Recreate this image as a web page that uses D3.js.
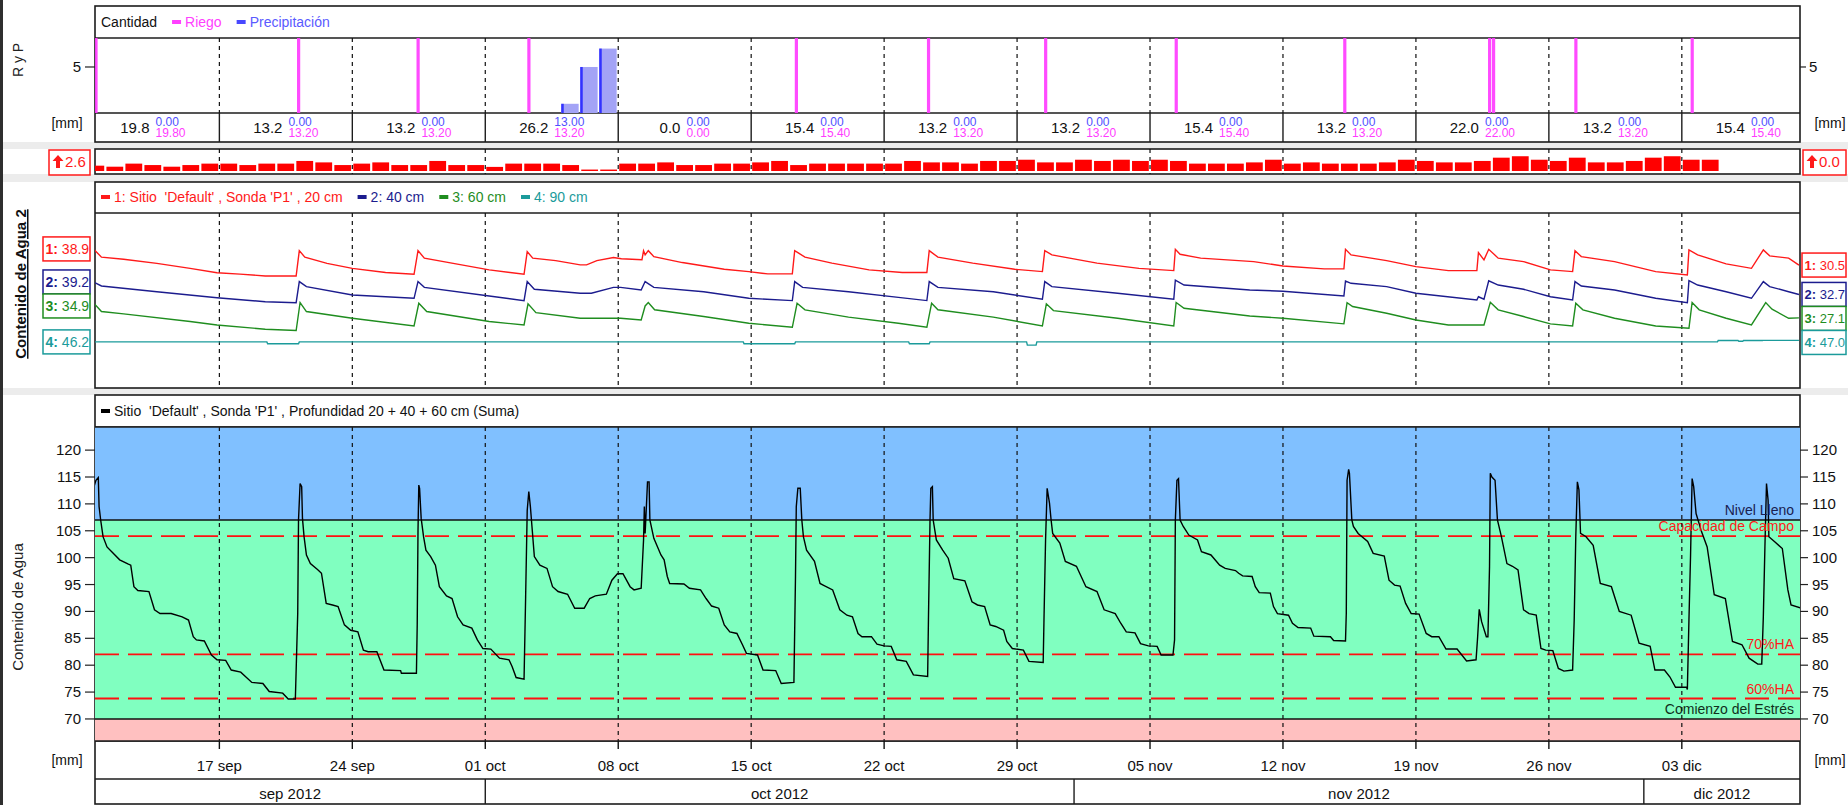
<!DOCTYPE html>
<html><head><meta charset="utf-8">
<script src="https://cdn.jsdelivr.net/npm/d3@7"></script>
<style>
body{margin:0;background:#fff;overflow:hidden;}
svg{display:block;font-family:"Liberation Sans",Arial,sans-serif;}
text{white-space:pre;}
</style></head><body>
<svg id="c" width="1848" height="805"></svg>
<script>
// ---------------- DATA ----------------
const riegoTimes = ["09-10 12","09-21 04","09-27 11","10-03 07","10-17 09","10-24 08","10-30 12","11-06 09","11-15 06","11-22 21","11-23 02","11-27 10","12-03 13"];
const riegoMm    = [19.8,13.2,13.2,13.2,15.4,13.2,13.2,15.4,13.2,13.2,8.8,13.2,15.4];
const precipDays = ["10-05 00","10-06 00","10-07 00"];
const precipMm   = [1.0,5.0,7.0];

const etStart = "09-10 00";
const etValues = [2.6,2.1,3.6,2.9,2.1,2.9,3.6,3.6,2.9,3.6, 3.6,4.9,4.2,2.9,3.6,4.2,2.9,2.9,4.9,2.9,
  2.9,2.0,3.6,3.6,3.6,2.9,0.7,0.7,3.6,3.6, 4.2,2.9,2.9,3.6,3.6,4.2,4.9,2.9,3.6,3.6,
  3.6,3.6,3.6,4.9,4.2,4.2,3.6,4.9,4.9,5.5, 4.2,4.2,5.5,4.9,5.5,4.9,5.5,4.9,3.6,3.6,
  3.6,4.2,5.5,3.6,4.2,3.6,3.6,3.6,4.2,5.5, 4.9,4.2,4.2,4.9,6.5,7.2,5.5,4.9,6.5,4.2,
  4.2,4.9,6.5,7.2,5.5,5.5];
const etRightValue = 0.0;

const suma = [["09-10 09",112.9],["09-10 12",114.4],["09-10 15",114.9],["09-10 16",109.5],["09-10 18",107.0],["09-10 21",103.9],
["09-11 02",102.0],["09-11 08",101.1],["09-11 18",99.6],["09-12 05",98.8],["09-12 08",98.6],["09-12 12",94.6],["09-12 17",93.9],
["09-13 07",93.7],["09-13 14",90.3],["09-13 21",89.6],["09-14 11",89.6],["09-15 01",89.0],["09-15 09",88.4],["09-15 15",85.3],
["09-15 19",84.7],["09-16 05",84.5],["09-16 14",81.9],["09-16 21",81.0],["09-17 08",80.9],["09-17 15",79.1],["09-18 03",78.7],
["09-18 17",76.8],["09-19 07",76.6],["09-19 15",75.1],["09-20 08",74.8],["09-20 15",73.7],["09-21 00",73.7],["09-21 03",89.6],
["09-21 04",107.0],["09-21 06",113.8],["09-21 08",113.2],["09-21 09",107.3],["09-21 11",103.9],["09-21 14",100.5],["09-21 19",98.9],
["09-22 04",97.8],["09-22 09",97.1],["09-22 15",91.5],["09-22 23",91.2],["09-23 06",90.9],["09-23 14",87.5],["09-23 22",86.5],
["09-24 07",86.2],["09-24 14",82.8],["09-24 20",82.5],["09-25 07",82.5],["09-25 16",79.1],["09-26 13",79.0],["09-26 14",78.5],
["09-27 09",78.5],["09-27 10",87.5],["09-27 11",105.1],["09-27 12",113.5],["09-27 13",112.9],["09-27 15",107.3],["09-27 18",103.9],
["09-27 21",101.4],["09-28 03",100.2],["09-28 09",98.6],["09-28 14",94.6],["09-28 23",92.9],["09-29 06",92.4],["09-29 13",89.0],
["09-29 20",87.5],["09-30 07",86.9],["09-30 14",84.7],["09-30 21",83.1],["10-01 07",83.0],["10-01 18",81.3],["10-02 06",81.0],
["10-02 10",79.7],["10-02 15",77.7],["10-03 01",77.4],["10-03 03",92.7],["10-03 05",108.8],["10-03 07",112.3],["10-03 09",109.5],
["10-03 11",105.8],["10-03 14",100.2],["10-03 21",98.6],["10-04 06",98.0],["10-04 13",94.6],["10-04 20",93.7],["10-05 08",93.2],
["10-05 17",90.6],["10-06 05",90.6],["10-06 12",92.4],["10-06 19",92.9],["10-07 09",93.2],["10-07 16",95.8],["10-07 23",97.0],
["10-08 06",97.0],["10-08 15",94.6],["10-08 20",94.0],["10-09 05",94.3],["10-09 08",103.3],["10-09 09",109.5],["10-09 10",104.5],
["10-09 11",107.6],["10-09 13",114.1],["10-09 15",114.1],["10-09 16",107.0],["10-09 21",103.6],["10-10 06",100.5],["10-10 10",99.6],
["10-10 14",96.5],["10-10 17",95.2],["10-11 11",95.1],["10-11 18",94.3],["10-12 08",94.0],["10-12 15",92.4],["10-12 22",91.0],
["10-13 07",90.6],["10-13 14",87.5],["10-13 21",86.2],["10-14 06",85.9],["10-14 13",83.8],["10-14 18",82.2],["10-15 08",81.9],
["10-15 15",79.1],["10-16 07",79.0],["10-16 14",76.6],["10-17 06",76.8],["10-17 08",96.5],["10-17 09",109.5],["10-17 11",112.9],
["10-17 14",112.9],["10-17 16",107.0],["10-17 18",103.9],["10-17 22",101.4],["10-18 08",99.3],["10-18 15",95.2],["10-18 19",94.9],
["10-19 07",94.0],["10-19 16",90.3],["10-20 01",89.3],["10-20 08",89.0],["10-20 15",85.9],["10-20 20",85.3],["10-21 08",85.3],
["10-21 15",83.9],["10-22 00",83.6],["10-22 09",83.5],["10-22 16",81.0],["10-23 04",80.7],["10-23 13",78.2],["10-24 07",77.9],
["10-24 08",88.4],["10-24 10",107.0],["10-24 11",112.9],["10-24 13",113.2],["10-24 14",107.0],["10-24 18",103.3],["10-25 02",101.4],
["10-25 09",99.9],["10-25 16",96.1],["10-26 06",95.7],["10-26 15",91.8],["10-26 22",91.2],["10-27 07",90.9],["10-27 14",87.5],
["10-27 21",87.2],["10-28 07",86.5],["10-28 11",84.4],["10-28 18",83.1],["10-29 08",82.8],["10-29 15",80.7],["10-30 09",80.5],
["10-30 10",88.4],["10-30 12",103.3],["10-30 14",112.9],["10-30 17",110.1],["10-30 19",107.0],["10-30 21",104.5],["10-31 06",102.7],
["10-31 13",99.3],["11-01 03",98.4],["11-01 15",94.6],["11-02 05",93.7],["11-02 14",90.3],["11-03 04",89.6],["11-03 11",87.8],
["11-03 18",86.2],["11-04 05",86.0],["11-04 12",84.0],["11-04 22",83.6],["11-05 09",83.5],["11-05 14",81.9],["11-06 05",81.9],
["11-06 07",84.7],["11-06 08",107.0],["11-06 10",114.4],["11-06 12",114.7],["11-06 14",107.0],["11-06 18",105.8],["11-07 01",104.2],
["11-07 12",103.3],["11-07 17",101.1],["11-08 05",100.5],["11-08 16",98.6],["11-08 23",98.0],["11-09 12",97.6],["11-09 16",97.1],
["11-09 21",96.6],["11-10 09",96.5],["11-10 13",94.6],["11-10 18",93.5],["11-11 08",93.4],["11-11 12",90.9],["11-11 17",89.6],
["11-12 07",89.3],["11-12 12",87.8],["11-12 19",87.0],["11-13 11",86.9],["11-13 15",85.4],["11-14 12",85.3],["11-14 16",84.6],
["11-15 07",84.5],["11-15 08",89.6],["11-15 09",114.4],["11-15 11",116.4],["11-15 12",115.7],["11-15 15",107.0],["11-15 17",105.8],
["11-15 23",104.5],["11-16 11",103.0],["11-16 18",100.8],["11-17 08",100.3],["11-17 14",95.8],["11-17 21",94.9],["11-18 04",94.7],
["11-18 11",91.5],["11-18 18",89.6],["11-19 04",89.5],["11-19 13",85.9],["11-19 20",85.3],["11-20 05",85.3],["11-20 14",83.0],
["11-21 04",83.0],["11-21 16",80.8],["11-22 04",81.0],["11-22 06",85.3],["11-22 08",90.4],["11-22 11",88.1],["11-22 17",85.3],
["11-22 19",85.3],["11-22 21",98.3],["11-22 22",115.7],["11-23 00",115.0],["11-23 04",114.4],["11-23 07",107.0],["11-23 12",103.9],
["11-23 19",98.9],["11-24 02",98.4],["11-24 09",97.7],["11-24 16",90.3],["11-24 23",89.6],["11-25 08",89.3],["11-25 14",83.1],
["11-25 20",82.8],["11-26 05",82.7],["11-26 12",79.4],["11-26 19",78.9],["11-27 06",79.1],["11-27 08",88.4],["11-27 10",103.9],
["11-27 12",114.1],["11-27 14",112.6],["11-27 16",104.5],["11-27 23",103.9],["11-28 08",102.3],["11-28 17",95.2],["11-29 07",94.6],
["11-29 17",90.0],["11-30 08",89.3],["11-30 18",84.1],["12-01 08",83.5],["12-01 14",79.1],["12-02 02",79.1],["12-02 09",77.8],
["12-02 16",75.9],["12-03 06",75.9],["12-03 07",75.5],["12-03 09",88.4],["12-03 11",100.2],["12-03 13",114.7],["12-03 15",113.2],
["12-03 18",108.2],["12-04 01",104.8],["12-04 08",102.0],["12-04 17",93.1],["12-05 07",92.4],["12-05 16",84.4],["12-06 04",83.8],
["12-06 13",81.3],["12-07 00",80.2],["12-07 05",80.2],["12-07 07",89.0],["12-07 09",102.0],["12-07 11",113.8],["12-07 13",110.7],
["12-07 14",103.9],["12-07 21",103.0],["12-08 07",101.7],["12-08 14",94.0],["12-08 18",91.2],["12-09 07",90.6]];

const d20 = [["09-10 09",38.9],["09-10 19",34.6],["09-11 23",33.5],["09-13 17",31.4],["09-15 11",28.8],["09-16 21",26.5],["09-18 02",25.8],
["09-19 10",24.8],["09-21 01",24.8],["09-21 05",38.0],["09-21 12",34.6],["09-22 16",31.4],["09-24 00",28.8],["09-25 18",26.6],
["09-27 06",25.7],["09-27 11",38.0],["09-27 19",34.1],["09-29 11",31.1],["10-01 05",28.0],["10-03 01",25.7],["10-03 05",37.5],
["10-03 12",34.1],["10-04 17",32.8],["10-06 00",30.6],["10-06 08",30.6],["10-06 21",32.8],["10-07 18",34.4],["10-08 04",33.8],
["10-09 06",33.3],["10-09 08",37.9],["10-09 10",35.8],["10-09 14",38.0],["10-09 21",34.9],["10-11 09",31.8],["10-13 14",28.3],
["10-14 21",27.1],["10-15 21",25.9],["10-17 04",25.9],["10-17 07",38.0],["10-17 12",36.7],["10-17 20",34.6],["10-19 06",31.5],
["10-21 05",28.0],["10-22 23",26.6],["10-24 06",26.6],["10-24 09",38.0],["10-24 20",34.6],["10-26 16",31.5],["10-28 21",28.3],
["10-30 08",27.1],["10-30 11",38.0],["10-30 20",35.8],["11-02 05",31.5],["11-04 10",28.8],["11-06 06",27.6],["11-06 08",38.7],
["11-06 14",36.1],["11-07 16",34.1],["11-10 11",32.3],["11-12 00",30.0],["11-14 04",28.5],["11-15 05",28.5],["11-15 07",38.7],
["11-15 14",35.8],["11-17 11",32.8],["11-19 00",29.7],["11-20 17",27.6],["11-22 05",27.6],["11-22 07",37.0],["11-22 14",33.2],
["11-22 20",38.7],["11-23 08",34.1],["11-24 16",32.3],["11-26 02",28.0],["11-27 06",27.1],["11-27 09",38.0],["11-27 17",34.9],
["11-29 11",32.3],["12-01 15",27.1],["12-03 07",25.4],["12-03 09",38.4],["12-03 20",35.8],["12-05 08",31.1],["12-06 16",28.8],
["12-07 07",38.4],["12-07 15",35.3],["12-08 15",34.1],["12-09 04",30.5]];

const d40 = [["09-10 09",39.2],["09-10 19",37.1],["09-13 17",34.1],["09-16 21",31.0],["09-19 10",28.9],["09-21 01",28.4],["09-21 05",39.4],
["09-21 14",36.8],["09-24 00",32.4],["09-27 06",30.7],["09-27 11",39.4],["09-27 19",36.4],["10-01 05",31.9],["10-03 01",29.5],
["10-03 05",39.4],["10-03 14",35.4],["10-06 00",33.3],["10-06 14",33.3],["10-07 18",36.4],["10-08 03",36.4],["10-09 05",35.0],
["10-09 10",39.4],["10-09 21",36.4],["10-12 12",34.1],["10-14 21",30.7],["10-17 04",29.5],["10-17 07",39.4],["10-17 17",36.4],
["10-20 03",34.1],["10-22 18",31.2],["10-24 06",29.5],["10-24 09",39.4],["10-24 20",36.4],["10-27 18",34.1],["10-30 08",30.2],
["10-30 11",39.4],["10-30 20",36.8],["11-03 07",33.3],["11-06 06",30.2],["11-06 08",40.2],["11-06 19",37.6],["11-10 06",35.0],
["11-12 00",34.4],["11-15 05",31.9],["11-15 07",39.7],["11-15 14",38.5],["11-17 11",36.8],["11-19 00",33.3],["11-22 05",29.8],
["11-22 07",31.5],["11-22 14",30.2],["11-22 20",39.8],["11-23 08",37.6],["11-24 16",35.4],["11-26 02",31.5],["11-27 06",29.8],
["11-27 09",39.4],["11-27 17",37.1],["11-29 11",35.0],["12-01 15",30.7],["12-03 07",28.4],["12-03 09",39.9],["12-03 20",37.6],
["12-05 08",34.1],["12-06 16",30.7],["12-07 07",39.4],["12-07 15",36.8],["12-08 15",34.1],["12-09 04",32.7]];

const d60 = [["09-10 09",34.9],["09-10 19",30.4],["09-11 23",29.2],["09-15 11",25.2],["09-16 21",23.4],["09-19 10",21.2],["09-21 01",20.5],
["09-21 06",35.1],["09-21 14",30.4],["09-24 00",26.9],["09-27 06",22.9],["09-27 12",34.7],["09-27 22",30.4],["10-01 05",25.2],
["10-03 01",23.4],["10-03 06",34.4],["10-03 16",29.8],["10-06 00",26.9],["10-08 03",26.9],["10-09 05",26.0],["10-09 10",33.3],
["10-09 14",35.1],["10-09 22",31.3],["10-12 12",27.8],["10-14 21",24.3],["10-17 04",22.2],["10-17 10",34.7],["10-17 20",31.3],
["10-20 03",27.5],["10-22 18",24.3],["10-24 06",22.2],["10-24 12",34.7],["10-24 20",31.3],["10-27 18",27.5],["10-30 08",22.9],
["10-30 13",34.4],["10-30 22",30.9],["11-03 07",26.9],["11-06 06",22.9],["11-06 09",35.1],["11-06 19",32.1],["11-10 06",28.1],
["11-12 00",26.9],["11-15 05",24.0],["11-15 09",35.0],["11-15 16",33.0],["11-17 11",29.5],["11-19 00",26.0],["11-20 17",23.4],
["11-22 14",23.4],["11-22 22",35.2],["11-23 08",31.3],["11-24 16",27.8],["11-26 02",24.0],["11-27 06",22.9],["11-27 10",34.7],
["11-27 19",31.3],["11-29 11",26.9],["12-01 15",22.9],["12-03 09",21.7],["12-03 13",35.1],["12-03 22",31.3],["12-05 08",26.9],
["12-06 16",23.4],["12-07 10",35.1],["12-07 18",31.6],["12-08 15",26.9],["12-09 04",27.1]];

const d90 = [["09-10 09",46.2],["09-19 12",46.2],["09-19 13",45.2],["09-21 04",45.2],["09-21 05",46.2],["10-14 14",46.2],["10-14 15",45.2],
["10-17 07",45.2],["10-17 08",46.2],["10-23 07",46.2],["10-23 08",45.2],["10-24 09",45.2],["10-24 10",46.2],["10-29 12",46.2],
["10-29 13",44.5],["10-30 00",44.5],["10-30 01",46.2],["12-04 21",46.2],["12-04 22",46.9],["12-05 23",46.9],["12-06 00",46.5],
["12-06 05",46.5],["12-06 06",46.9],["12-07 06",46.9],["12-07 07",47.0],["12-09 04",47.0]];

const weekTicks = ["09-17 00","09-24 00","10-01 00","10-08 00","10-15 00","10-22 00","10-29 00","11-05 00","11-12 00","11-19 00","11-26 00","12-03 00"];
const weekTickLabels = ["17 sep","24 sep","01 oct","08 oct","15 oct","22 oct","29 oct","05 nov","12 nov","19 nov","26 nov","03 dic"];
const weekStartFirst = "09-10 00", weekEndLast = "12-10 00";
const monthStarts = ["10-01 00","11-01 00","12-01 00"];
const monthLabels = ["sep 2012","oct 2012","nov 2012","dic 2012"];
const mainTicks = [70,75,80,85,90,95,100,105,110,115,120];
const rpTicks = [5];
const levelValues = [107,104,82,73.8,70];
const levelLabels = ["Nivel Lleno","Capacidad de Campo","70%HA","60%HA","Comienzo del Estrés"];

// ---------------- SETUP ----------------
const parse = s => d3.timeParse("%Y-%m-%d %H")("2012-" + s);
const W = 1848, H = 805, X0 = 95, X1 = 1800;
const x = d3.scaleTime().domain([new Date(2012,8,10,10,50), new Date(2012,11,9,5,20)]).range([X0, X1]);
const P1 = {top:6, leg:38, plot:113, bot:142};
const P2 = {top:149, bot:174};
const P3 = {top:182, leg:213, bot:388};
const P4 = {top:395, leg:427, plot:741, axis:779, bot:804};
const svg = d3.select("#c");
const defs = svg.append("defs");
function clip(id, y0, y1){ defs.append("clipPath").attr("id",id).append("rect").attr("x",X0).attr("y",y0).attr("width",X1-X0).attr("height",y1-y0); return "url(#"+id+")"; }
const weeks = weekTicks.map(parse);
const BORDER = "#1c1c1c";

svg.append("rect").attr("width",W).attr("height",H).attr("fill","#fff");
[[142,149],[174,182],[388,395]].forEach(([a,b]) => svg.append("rect").attr("x",0).attr("y",a).attr("width",W).attr("height",b-a).attr("fill","#ececec"));
svg.append("rect").attr("x",0).attr("y",0).attr("width",3).attr("height",H).attr("fill","#2e2e2e");

function box(y0,y1){ svg.append("rect").attr("x",X0).attr("y",y0).attr("width",X1-X0).attr("height",y1-y0).attr("fill","#fff").attr("stroke",BORDER).attr("stroke-width",1.6); }
function hline(y, x0=X0, x1=X1, c=BORDER, w=1.6){ svg.append("line").attr("x1",x0).attr("x2",x1).attr("y1",y).attr("y2",y).attr("stroke",c).attr("stroke-width",w); }
function dashed(y0,y1){ svg.append("g").selectAll("line").data(weeks).join("line").attr("x1",d=>x(d)).attr("x2",d=>x(d)).attr("y1",y0).attr("y2",y1).attr("stroke","#111").attr("stroke-width",1.2).attr("stroke-dasharray","4,4"); }
function txt(g, s, xx, yy, opt={}){ const t = g.append("text").attr("x",xx).attr("y",yy).text(s).attr("font-size",opt.size||14).attr("fill",opt.fill||"#111"); if(opt.anchor) t.attr("text-anchor",opt.anchor); if(opt.weight) t.attr("font-weight",opt.weight); return t; }
function legendItems(y, items, startX){
  let cx = startX;
  items.forEach(it => {
    if(it.marker){ svg.append("rect").attr("x",cx).attr("y",y-2).attr("width",9).attr("height",4).attr("fill",it.marker); cx += 13; }
    const t = txt(svg, it.text, cx, y+5, {fill:it.fill, size:14});
    cx += t.node().getComputedTextLength() + 15;
  });
}
function upArrow(xa, ya, color){
  // bold up arrow glyph drawn as a small shape
  svg.append("path").attr("d", `M${xa},${ya-6} L${xa+5.5},${ya} L${xa+2},${ya} L${xa+2},${ya+7} L${xa-2},${ya+7} L${xa-2},${ya} L${xa-5.5},${ya} Z`).attr("fill",color);
}

// ---------------- PANEL 1 : Riego y Precipitación ----------------
box(P1.top, P1.bot); hline(P1.leg); hline(P1.plot);
legendItems(22, [{text:"Cantidad", fill:"#111"},{marker:"#ff40ff", text:"Riego", fill:"#ff40ff"},{marker:"#4848ff", text:"Precipitación", fill:"#5a5aff"}], 101);
const yR = d3.scaleLinear().domain([0, 8.15]).range([P1.plot, P1.leg]);
dashed(P1.leg, P1.plot);
const c1 = clip("c1", P1.leg, P1.plot);
const riego = riegoTimes.map((t,i) => ({t:parse(t), v:riegoMm[i]}));
const precip = precipDays.map((t,i) => ({t:parse(t), v:precipMm[i]}));
const g1 = svg.append("g").attr("clip-path", c1);
g1.selectAll(".pb").data(precip).join("rect").attr("x",d=>x(d.t)).attr("width",d=>x(d3.timeHour.offset(d.t,22))-x(d.t))
  .attr("y",d=>yR(d.v)).attr("height",d=>yR(0)-yR(d.v)).attr("fill","#a3a3f6");
g1.selectAll(".pe").data(precip).join("rect").attr("x",d=>x(d.t)).attr("width",2.5)
  .attr("y",d=>yR(d.v)).attr("height",d=>yR(0)-yR(d.v)).attr("fill","#3232ff");
g1.selectAll(".rb").data(riego).join("rect").attr("x",d=>x(d.t)-1.5).attr("width",3.2)
  .attr("y",d=>yR(d.v)).attr("height",d=>yR(0)-yR(d.v)).attr("fill","#ff3cff").attr("opacity",0.92);
rpTicks.forEach(v => {
  hline(yR(v), X0-10, X0, "#222", 1.2); hline(yR(v), X1, X1+6, "#222", 1.2);
  txt(svg, String(v), X0-14, yR(v)+5, {anchor:"end", size:15});
  txt(svg, String(v), X1+9, yR(v)+5, {size:15});
});
txt(svg, "[mm]", 67, 128, {anchor:"middle", size:14});
txt(svg, "[mm]", 1830, 128, {anchor:"middle", size:14});
svg.append("text").attr("transform","translate(23,60) rotate(-90)").attr("text-anchor","middle").attr("font-size",14).attr("fill","#222").text("R y P");
const cellB = [parse(weekStartFirst), ...weeks, parse(weekEndLast)];
weeks.forEach(w => { svg.append("line").attr("x1",x(w)).attr("x2",x(w)).attr("y1",P1.plot).attr("y2",P1.bot).attr("stroke",BORDER).attr("stroke-width",1.4); });
for(let i=0;i<cellB.length-1;i++){
  const a = cellB[i], b = cellB[i+1];
  const r = d3.sum(riego.filter(d=>d.t>=a && d.t<b), d=>d.v);
  const p = d3.sum(precip.filter(d=>d.t>=a && d.t<b), d=>d.v);
  const cx = (x(a)+x(b))/2;
  const gt = svg.append("g");
  const tT = txt(gt, d3.format(".1f")(r+p), 0, 133, {size:15, fill:"#111"});
  const tP = txt(gt, d3.format(".2f")(p), 0, 126, {size:12, fill:"#4f4fff"});
  const tR = txt(gt, d3.format(".2f")(r), 0, 137, {size:12, fill:"#ff3cff"});
  const wT = tT.node().getComputedTextLength(), wS = Math.max(tP.node().getComputedTextLength(), tR.node().getComputedTextLength());
  const s = cx - (wT + 6 + wS)/2;
  tT.attr("x", s); tP.attr("x", s+wT+6); tR.attr("x", s+wT+6);
}

// ---------------- PANEL 2 : ET ----------------
box(P2.top, P2.bot);
dashed(P2.top, P2.bot);
const yE = d3.scaleLinear().domain([0,10]).range([171, 150.5]);
const et0 = parse(etStart);
const etData = etValues.map((v,i) => ({t:d3.timeDay.offset(et0,i), v}));
svg.append("g").attr("clip-path", clip("c2", P2.top, P2.bot)).selectAll("rect").data(etData).join("rect")
  .attr("x",d=>x(d.t)+1).attr("width",d=>x(d3.timeDay.offset(d.t,1))-x(d.t)-2.2)
  .attr("y",d=>yE(d.v)).attr("height",d=>yE(0)-yE(d.v)).attr("fill","#ff0000");
function etBox(x0, w, val){
  svg.append("rect").attr("x",x0).attr("y",P2.top+1).attr("width",w).attr("height",P2.bot-P2.top).attr("fill","#fff").attr("stroke","#ff1a1a").attr("stroke-width",1.5);
  upArrow(x0+9, P2.top+12, "#ff1a1a");
  txt(svg, d3.format(".1f")(val), x0+16, P2.top+18, {size:15, fill:"#ff1a1a"});
}
etBox(49, 41, etValues[0]);
etBox(1803, 43, etRightValue);

// ---------------- PANEL 3 : Contenido de Agua 2 ----------------
box(P3.top, P3.bot); hline(P3.leg);
const SPAN = 91.1;
const depthSeries = [
  {id:"1", label:"1: Sitio  'Default' , Sonda 'P1' , 20 cm", color:"#ff1a1a", data:d20, lo:-33.5},
  {id:"2", label:"2: 40 cm", color:"#1c1c8e", data:d40, lo:-16.0},
  {id:"3", label:"3: 60 cm", color:"#1f8d1f", data:d60, lo:-9.4},
  {id:"4", label:"4: 90 cm", color:"#1b9b9b", data:d90, lo:22.2}
];
legendItems(197, depthSeries.map(s => ({marker:s.color, text:s.label, fill:s.color})), 101);
dashed(P3.leg, P3.bot);
const g3 = svg.append("g").attr("clip-path", clip("c3", P3.leg, P3.bot));
depthSeries.forEach(s => {
  s.y = d3.scaleLinear().domain([s.lo, s.lo+SPAN]).range([P3.bot, P3.leg]);
  s.pts = s.data.map(d => ({t:parse(d[0]), v:d[1]}));
  g3.append("path").datum(s.pts).attr("fill","none").attr("stroke",s.color).attr("stroke-width",1.4)
    .attr("d", d3.line().x(d=>x(d.t)).y(d=>s.y(d.v)));
});
function depthBoxes(xb, w, pick, fs){
  let prevBottom = -1e9;
  depthSeries.forEach(s => {
    const v = pick(s.pts);
    let top = s.y(v) - 12;
    if(top < prevBottom) top = prevBottom;
    prevBottom = top + 24;
    svg.append("rect").attr("x",xb).attr("y",top).attr("width",w).attr("height",24).attr("fill","#fff").attr("stroke",s.color).attr("stroke-width",1.5);
    const t = svg.append("text").attr("x",xb+2.5).attr("y",top+17).attr("font-size",fs).attr("fill",s.color);
    t.append("tspan").attr("font-weight","bold").text(s.id+":");
    t.append("tspan").text(" "+d3.format(".1f")(v));
  });
}
depthBoxes(43, 47, p => p[0].v, 14);
depthBoxes(1802, 44, p => p[p.length-1].v, 13);
svg.append("text").attr("transform","translate(26,284) rotate(-90)").attr("text-anchor","middle").attr("font-size",15)
  .attr("font-weight","bold").attr("text-decoration","underline").attr("fill","#111").text("Contenido de Agua 2");

// ---------------- PANEL 4 : Contenido de Agua (Suma) ----------------
box(P4.top, P4.bot); hline(P4.leg); hline(P4.plot); hline(P4.axis);
legendItems(411, [{marker:"#000", text:"Sitio  'Default' , Sonda 'P1' , Profundidad 20 + 40 + 60 cm (Suma)", fill:"#111"}], 101);
const yM = d3.scaleLinear().domain([65.9, 124.3]).range([P4.plot, P4.leg]);
const g4 = svg.append("g").attr("clip-path", clip("c4", P4.leg, P4.plot));
const full = levelValues[0], stress = levelValues[4];
g4.append("rect").attr("x",X0).attr("width",X1-X0).attr("y",yM(124.3)).attr("height",yM(full)-yM(124.3)).attr("fill","#80c0ff");
g4.append("rect").attr("x",X0).attr("width",X1-X0).attr("y",yM(full)).attr("height",yM(stress)-yM(full)).attr("fill","#80ffc0");
g4.append("rect").attr("x",X0).attr("width",X1-X0).attr("y",yM(stress)).attr("height",yM(65.9)-yM(stress)).attr("fill","#ffc0c0");
[full, stress].forEach(v => g4.append("line").attr("x1",X0).attr("x2",X1).attr("y1",yM(v)).attr("y2",yM(v)).attr("stroke","#111").attr("stroke-width",1.4));
levelValues.slice(1,4).forEach(v => g4.append("line").attr("x1",X0).attr("x2",X1).attr("y1",yM(v)).attr("y2",yM(v))
  .attr("stroke","#ff1010").attr("stroke-width",1.8).attr("stroke-dasharray","24,9"));
const lvlColors = ["#1a2050","#ff1a1a","#ff1a1a","#ff1a1a","#10301c"];
levelValues.forEach((v,i) => txt(svg, levelLabels[i], 1794, yM(v)-5, {anchor:"end", size:14, fill:lvlColors[i]}));
dashed(P4.leg, P4.plot);
const sumaPts = suma.map(d => ({t:parse(d[0]), v:d[1]}));
g4.append("path").datum(sumaPts).attr("fill","none").attr("stroke","#000").attr("stroke-width",1.4)
  .attr("d", d3.line().x(d=>x(d.t)).y(d=>yM(d.v)));
hline(P4.leg); hline(P4.plot);
mainTicks.forEach(v => {
  hline(yM(v), X0-10, X0, "#222", 1.2); hline(yM(v), X1, X1+8, "#222", 1.2);
  txt(svg, String(v), X0-14, yM(v)+5, {anchor:"end", size:15});
  txt(svg, String(v), X1+12, yM(v)+5, {size:15});
});
svg.append("text").attr("transform","translate(23,607) rotate(-90)").attr("text-anchor","middle").attr("font-size",15).attr("fill","#222").text("Contenido de Agua");
weeks.forEach((w,i) => {
  svg.append("line").attr("x1",x(w)).attr("x2",x(w)).attr("y1",P4.plot).attr("y2",P4.plot+8).attr("stroke","#111").attr("stroke-width",1.4);
  txt(svg, weekTickLabels[i], x(w), 771, {anchor:"middle", size:15});
});
txt(svg, "[mm]", 67, 765, {anchor:"middle", size:14});
txt(svg, "[mm]", 1830, 765, {anchor:"middle", size:14});
const mB = [x.domain()[0], ...monthStarts.map(parse), x.domain()[1]];
monthStarts.map(parse).forEach(m => svg.append("line").attr("x1",x(m)).attr("x2",x(m)).attr("y1",P4.axis).attr("y2",P4.bot).attr("stroke",BORDER).attr("stroke-width",1.4));
monthLabels.forEach((l,i) => txt(svg, l, (x(mB[i])+x(mB[i+1]))/2, 799, {anchor:"middle", size:15}));
</script></body></html>
